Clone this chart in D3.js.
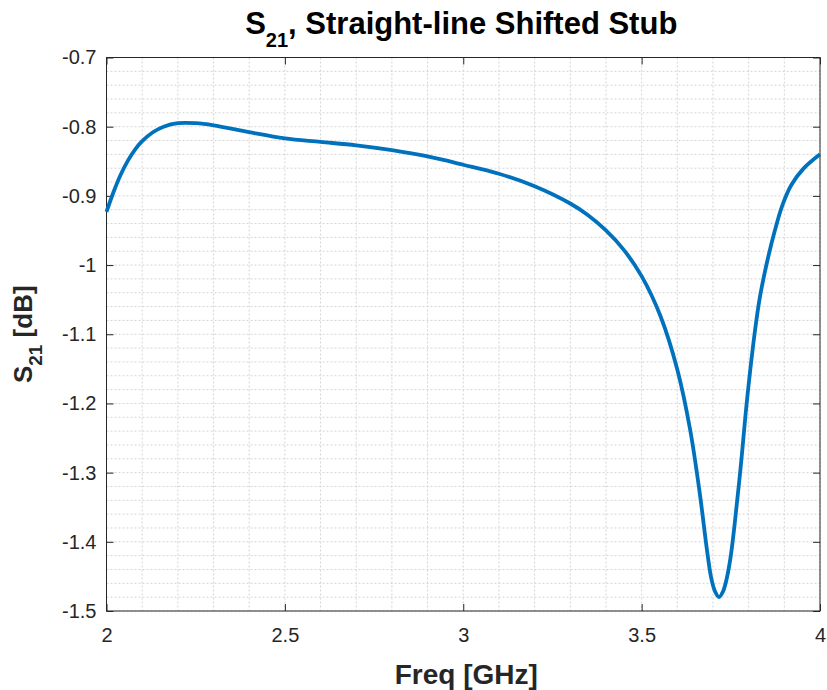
<!DOCTYPE html>
<html>
<head>
<meta charset="utf-8">
<script src="https://cdn.jsdelivr.net/npm/d3@7"></script>
<style>
  body { margin: 0; background: #fff; }
  text { font-family: "Liberation Sans", Arial, sans-serif; }
</style>
</head>
<body>
<div id="chart"></div>
<script>
// Frequency samples [GHz] and S21 values [dB]
var freq = [2.00, 2.02, 2.04, 2.06, 2.08, 2.10, 2.13, 2.16, 2.20, 2.25, 2.30, 2.40, 2.50, 2.60, 2.70, 2.80, 2.90,
            3.00, 3.10, 3.20, 3.30, 3.35, 3.40, 3.45, 3.50, 3.553, 3.60, 3.636, 3.663, 3.684, 3.695, 3.706,
            3.717, 3.728, 3.739, 3.750, 3.760, 3.778, 3.796, 3.818, 3.832, 3.851, 3.874, 3.895, 3.920, 3.953, 4.00];
var s21 = [-0.923, -0.894, -0.869, -0.849, -0.833, -0.821, -0.808, -0.800, -0.795, -0.795, -0.798, -0.808, -0.817, -0.822, -0.827, -0.834, -0.843,
           -0.855, -0.868, -0.886, -0.911, -0.928, -0.950, -0.978, -1.016, -1.074, -1.151, -1.238, -1.330, -1.415, -1.452, -1.472,
           -1.480, -1.472, -1.452, -1.420, -1.378, -1.290, -1.192, -1.094, -1.045, -0.997, -0.949, -0.913, -0.884, -0.861, -0.840];

var xTicks = [2, 2.5, 3, 3.5, 4];
var yTicks = [-0.7, -0.8, -0.9, -1, -1.1, -1.2, -1.3, -1.4, -1.5];
var xDomain = [2, 4];
var yDomain = [-1.5, -0.7];

var margin = {top: 57.5, bottom: 79, left: 106.5, right: 7};
var width = 827 - margin.left - margin.right;
var height = 690 - margin.top - margin.bottom;

var svg = d3.select('#chart').append('svg')
    .attr('width', 827)
    .attr('height', 690);

var g = svg.append('g')
    .attr('transform', `translate(${margin.left},${margin.top})`);

// Scales setup
var xScale = d3.scaleLinear().domain(xDomain).range([0, width]);
var yScale = d3.scaleLinear().domain(yDomain).range([height, 0]);

// Minor grid (dotted, every 0.1 GHz / 0.02 dB)
var xGrid = d3.range(21).map((i) => 2 + i * 0.1);
var yGrid = d3.range(41).map((i) => -1.5 + i * 0.02);

g.append('g').selectAll('line').data(xGrid).enter().append('line')
    .attr('x1', (d) => xScale(d)).attr('x2', (d) => xScale(d))
    .attr('y1', 0).attr('y2', height)
    .attr('stroke', '#d4d4d4').attr('stroke-width', 1)
    .attr('stroke-dasharray', '2,2');

g.append('g').selectAll('line').data(yGrid).enter().append('line')
    .attr('x1', 0).attr('x2', width)
    .attr('y1', (d) => yScale(d)).attr('y2', (d) => yScale(d))
    .attr('stroke', '#d4d4d4').attr('stroke-width', 1)
    .attr('stroke-dasharray', '2,2');

// Axes (ticks point inward, as in MATLAB)
var axisColor = '#262626';
function styleAxis(sel) {
    sel.select('.domain').remove();
    sel.selectAll('line').attr('stroke', axisColor);
    sel.selectAll('text')
        .attr('fill', axisColor)
        .style('font-size', '20px');
}

var plainFmt = (d) => String(d);

var xAxis = d3.axisBottom(xScale).tickValues(xTicks).tickFormat(plainFmt).tickSizeInner(-7).tickPadding(17);
g.append('g').attr('transform', `translate(0,${height})`).call(xAxis).call(styleAxis);

var yAxis = d3.axisLeft(yScale).tickValues(yTicks).tickFormat(plainFmt).tickSizeInner(-7).tickPadding(10);
g.append('g').call(yAxis).call(styleAxis);

g.append('g').call(d3.axisTop(xScale).tickValues(xTicks).tickFormat('').tickSizeInner(-7)).call(styleAxis);
g.append('g').attr('transform', `translate(${width},0)`)
    .call(d3.axisRight(yScale).tickValues(yTicks).tickFormat('').tickSizeInner(-7)).call(styleAxis);

// Box
g.append('rect')
    .attr('width', width).attr('height', height)
    .attr('fill', 'none').attr('stroke', axisColor).attr('stroke-width', 1);

// The curve
var line = d3.line()
    .x((d, i) => xScale(freq[i]))
    .y((d) => yScale(d))
    .curve(d3.curveCatmullRom.alpha(0.5));

g.append('path')
    .datum(s21)
    .attr('d', line)
    .attr('fill', 'none')
    .attr('stroke', '#0072BD')
    .attr('stroke-width', 3.8)
    .attr('stroke-linejoin', 'round');

// Title
var title = svg.append('text')
    .attr('x', margin.left + width / 2 - 2)
    .attr('y', 34)
    .attr('text-anchor', 'middle')
    .attr('font-weight', 'bold')
    .style('font-size', '31px')
    .attr('fill', '#000');
title.append('tspan').text('S');
title.append('tspan').attr('dy', 13).style('font-size', '20px').text('21');
title.append('tspan').attr('dy', -13).text(', Straight-line Shifted Stub');

// X label
svg.append('text')
    .attr('x', margin.left + width / 2 + 3)
    .attr('y', 684)
    .attr('text-anchor', 'middle')
    .attr('font-weight', 'bold')
    .attr('fill', axisColor)
    .style('font-size', '28px')
    .text('Freq [GHz]');

// Y label
var ylab = svg.append('text')
    .attr('transform', `translate(32,${margin.top + height / 2}) rotate(-90)`)
    .attr('text-anchor', 'middle')
    .attr('font-weight', 'bold')
    .attr('fill', axisColor)
    .style('font-size', '26px');
ylab.append('tspan').text('S');
ylab.append('tspan').attr('dy', 10).style('font-size', '19px').text('21');
ylab.append('tspan').attr('dy', -10).text(' [dB]');
</script>
</body>
</html>
